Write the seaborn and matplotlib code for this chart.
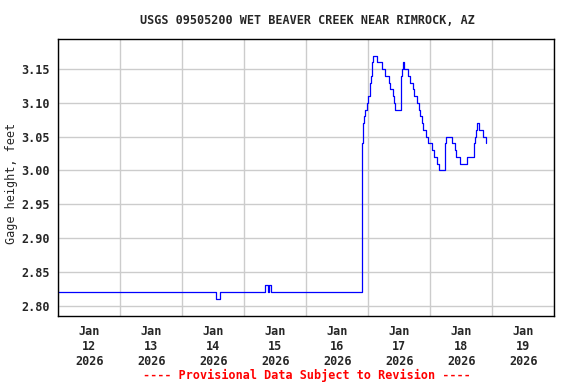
import pandas as pd
import seaborn as sns
import matplotlib
matplotlib.use("Agg")
import matplotlib.pyplot as plt
import matplotlib.dates as mdates

# gage height change points (15-min record, value held until next change)
times = [
    "2026-01-12 00:00", "2026-01-14 13:00", "2026-01-14 14:30",
    "2026-01-15 08:00", "2026-01-15 09:15", "2026-01-15 09:30", "2026-01-15 10:30",
    "2026-01-16 21:30", "2026-01-16 21:45", "2026-01-16 22:00", "2026-01-16 22:30",
    "2026-01-16 22:45", "2026-01-16 23:30", "2026-01-17 00:00", "2026-01-17 00:30",
    "2026-01-17 00:45", "2026-01-17 01:00", "2026-01-17 01:15", "2026-01-17 01:30",
    "2026-01-17 02:00", "2026-01-17 03:30", "2026-01-17 05:15", "2026-01-17 06:30",
    "2026-01-17 08:00", "2026-01-17 08:30", "2026-01-17 09:45", "2026-01-17 10:00",
    "2026-01-17 10:30", "2026-01-17 12:30", "2026-01-17 12:45", "2026-01-17 13:00",
    "2026-01-17 13:30", "2026-01-17 14:00", "2026-01-17 15:15", "2026-01-17 16:00",
    "2026-01-17 17:15", "2026-01-17 17:45", "2026-01-17 19:00", "2026-01-17 19:30",
    "2026-01-17 20:00", "2026-01-17 20:45", "2026-01-17 21:15", "2026-01-17 22:15",
    "2026-01-17 23:15", "2026-01-18 00:45", "2026-01-18 01:15", "2026-01-18 02:30",
    "2026-01-18 03:30", "2026-01-18 05:30", "2026-01-18 06:00", "2026-01-18 08:15",
    "2026-01-18 09:30", "2026-01-18 10:00", "2026-01-18 11:30", "2026-01-18 14:15",
    "2026-01-18 16:45", "2026-01-18 17:15", "2026-01-18 17:30", "2026-01-18 18:00",
    "2026-01-18 19:00", "2026-01-18 20:30", "2026-01-18 21:30", "2026-01-18 21:45",
]
gage_ft = [
    2.82, 2.81, 2.82,
    2.83, 2.82, 2.83, 2.82,
    2.85, 3.04, 3.07, 3.08,
    3.09, 3.10, 3.11, 3.12,
    3.13, 3.14, 3.15, 3.16,
    3.17, 3.16, 3.15, 3.14,
    3.13, 3.12, 3.11, 3.10,
    3.09, 3.13, 3.14, 3.15,
    3.16, 3.15, 3.14, 3.13,
    3.12, 3.11, 3.10, 3.09,
    3.08, 3.07, 3.06, 3.05,
    3.04, 3.03, 3.02, 3.01,
    3.00, 3.04, 3.05, 3.04,
    3.03, 3.02, 3.01, 3.02,
    3.04, 3.05, 3.06, 3.07,
    3.06, 3.05, 3.04, 3.04,
]
day_labels = ["Jan\n12\n2026", "Jan\n13\n2026", "Jan\n14\n2026", "Jan\n15\n2026",
              "Jan\n16\n2026", "Jan\n17\n2026", "Jan\n18\n2026", "Jan\n19\n2026"]
y_ticks = [2.80, 2.85, 2.90, 2.95, 3.00, 3.05, 3.10, 3.15]

df = pd.DataFrame({"time": pd.to_datetime(times), "gage": gage_ft})

sns.set_style("white")
plt.rcParams["font.family"] = ["DejaVu Sans Mono"]
plt.rcParams["font.weight"] = "bold"
plt.rcParams["font.size"] = 8.5

fig = plt.figure(figsize=(5.76, 3.84), dpi=100)
ax = fig.add_axes([58.3 / 576, 1 - 315.7 / 384, 496 / 576, 276.4 / 384])

sns.lineplot(data=df, x="time", y="gage", ax=ax, color="#0000ff", lw=0.9,
             drawstyle="steps-post", estimator=None)

ax.set_xlim(pd.Timestamp("2026-01-12"), pd.Timestamp("2026-01-20"))
ax.set_ylim(2.785, 3.194)

noon = pd.date_range("2026-01-12 12:00", periods=8, freq="D")
ax.set_xticks(mdates.date2num(noon))
ax.set_xticklabels(day_labels, linespacing=1.2)
ax.xaxis.set_minor_locator(mdates.DayLocator())
ax.set_yticks(y_ticks)
ax.set_yticklabels([f"{v:.2f}" for v in y_ticks])

ax.grid(False)
ax.grid(which="minor", axis="x", color="#cccccc", lw=1)
ax.grid(which="major", axis="y", color="#cccccc", lw=1)
ax.tick_params(which="both", length=0)
ax.tick_params(axis="x", pad=7)
ax.tick_params(axis="y", pad=6)

for s in ax.spines.values():
    s.set_color("black")
    s.set_linewidth(1)
    s.set_visible(True)

ax.set_xlabel("")
ax.set_ylabel("Gage height, feet")
ax.yaxis.set_label_coords(-0.082, 0.48)
fig.text(0.534, 1 - 20 / 384, "USGS 09505200 WET BEAVER CREEK NEAR RIMROCK, AZ",
         ha="center", va="center")
fig.text(0.532, 1 - 375 / 384, "---- Provisional Data Subject to Revision ----",
         ha="center", va="center", color="red")

plt.savefig("out.png", dpi=100)
